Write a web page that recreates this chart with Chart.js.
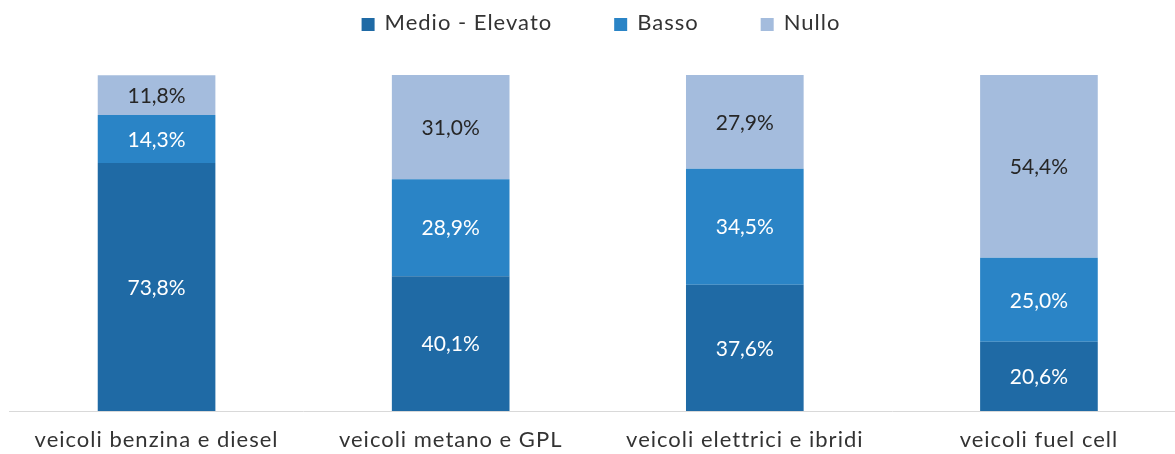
<!DOCTYPE html>
<html lang="it">
  <head>
    <meta charset="utf-8" />
    <title>Veicoli</title>
    <script src="https://cdn.jsdelivr.net/npm/chart.js@4.4.0/dist/chart.umd.min.js"></script>
    <style>
      html, body { margin: 0; padding: 0; background: #fff; overflow: hidden; }
      .wrap { width: 1186px; height: 470px; position: relative; }
    </style>
  </head>
  <body>
    <div class="wrap"><canvas id="chart"></canvas></div>
    <script>
      const categories = [
        "veicoli benzina e diesel",
        "veicoli metano e GPL",
        "veicoli elettrici e ibridi",
        "veicoli fuel cell"
      ];
      const medioElevato = [73.8, 40.1, 37.6, 20.6];
      const basso = [14.3, 28.9, 34.5, 25.0];
      const nullo = [11.8, 31.0, 27.9, 54.4];

      const FONT = "Lato, 'Open Sans', sans-serif";

      // testo un po' più largo, come nell'originale
      const spacing = {
        id: "spacing",
        beforeUpdate(chart) { chart.ctx.letterSpacing = "1px"; },
        beforeDraw(chart) { chart.ctx.letterSpacing = "1px"; }
      };

      // etichette dentro i segmenti
      const valueLabels = {
        id: "valueLabels",
        afterDatasetsDraw(chart) {
          const ctx = chart.ctx;
          ctx.save();
          ctx.letterSpacing = "0px";
          ctx.font = "21px " + FONT;
          ctx.textAlign = "center";
          ctx.textBaseline = "middle";
          chart.data.datasets.forEach((ds, i) => {
            const meta = chart.getDatasetMeta(i);
            meta.data.forEach((bar, j) => {
              const v = ds.data[j];
              const y = (bar.y + bar.base) / 2 + 1;
              ctx.fillStyle = ds.labelColor;
              ctx.fillText(v.toFixed(1).replace(".", ",") + "%", bar.x, y);
            });
          });
          ctx.restore();
        }
      };

      // legenda in alto, centrata
      const topLegend = {
        id: "topLegend",
        afterDraw(chart) {
          const ctx = chart.ctx;
          ctx.save();
          ctx.letterSpacing = "1px";
          ctx.font = "22px " + FONT;
          ctx.textBaseline = "alphabetic";
          const box = 13, gapText = 10, gapItem = 62;
          const items = chart.data.datasets.map(ds => ({
            label: ds.label, color: ds.backgroundColor,
            w: box + gapText + ctx.measureText(ds.label).width
          }));
          const total = items.reduce((s, it) => s + it.w, 0) + gapItem * (items.length - 1);
          let x = 601 - total / 2;
          items.forEach(it => {
            ctx.fillStyle = it.color;
            ctx.fillRect(x, 18, box, box);
            ctx.fillStyle = "#333333";
            ctx.fillText(it.label, x + box + gapText, 30);
            x += it.w + gapItem;
          });
          ctx.restore();
        }
      };

      new Chart(document.getElementById("chart"), {
        type: "bar",
        data: {
          labels: categories,
          datasets: [
            { label: "Medio - Elevato", data: medioElevato, backgroundColor: "#1f6aa5", labelColor: "#ffffff" },
            { label: "Basso", data: basso, backgroundColor: "#2a84c6", labelColor: "#ffffff" },
            { label: "Nullo", data: nullo, backgroundColor: "#a4bcdd", labelColor: "#262626" }
          ]
        },
        options: {
          responsive: true,
          maintainAspectRatio: false,
          animation: false,
          layout: { padding: { top: 75, left: 9.5, right: 0, bottom: 0.6 } },
          datasets: { bar: { barPercentage: 1, categoryPercentage: 0.4 } },
          plugins: {
            legend: { display: false },
            tooltip: { enabled: false }
          },
          scales: {
            x: {
              stacked: true,
              grid: { display: false, drawTicks: false },
              border: { color: "#d9d9d9", width: 1 },
              ticks: { color: "#333333", font: { family: FONT, size: 22 }, padding: 16, maxRotation: 0 }
            },
            y: {
              stacked: true,
              display: false,
              min: 0,
              max: 100
            }
          }
        },
        plugins: [spacing, valueLabels, topLegend]
      });
    </script>
  </body>
</html>
